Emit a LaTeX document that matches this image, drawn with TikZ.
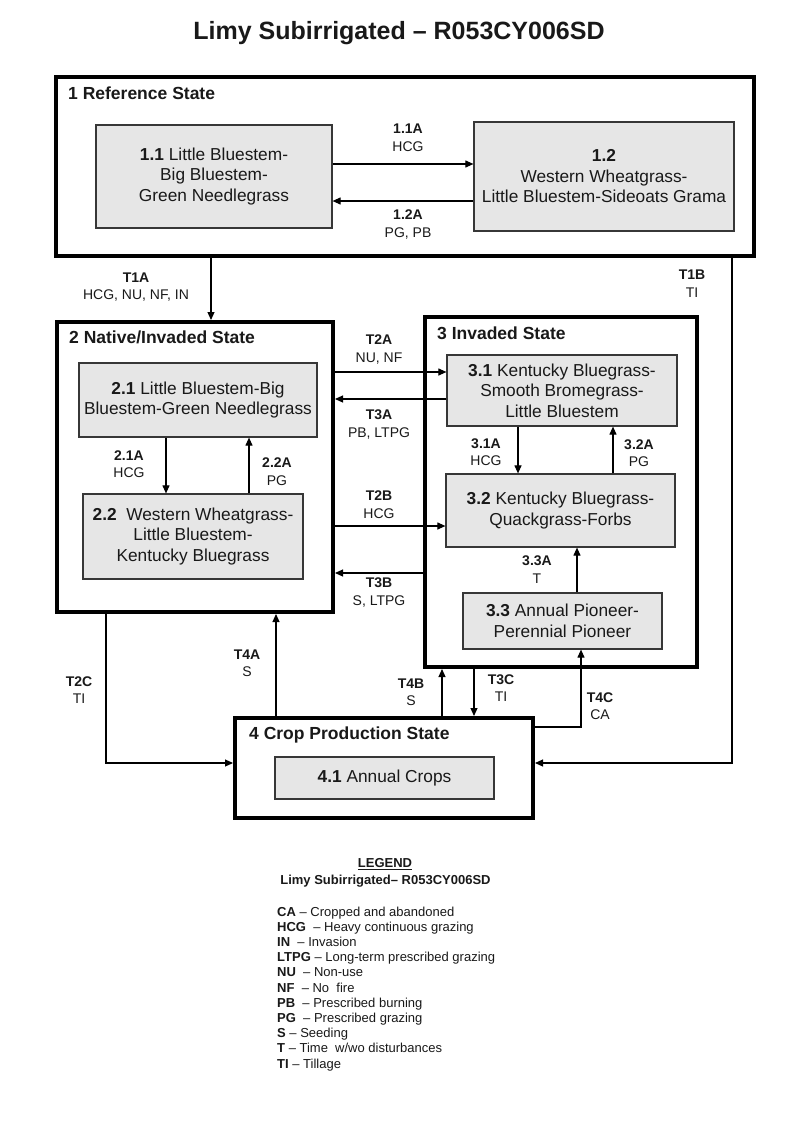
\documentclass[tikz,border=0pt]{standalone}
\usepackage{fontspec}
\setmainfont{Liberation Sans}
\usetikzlibrary{arrows.meta}
\definecolor{boxgray}{RGB}{230,230,230}
\definecolor{edgegray}{RGB}{55,55,55}
\definecolor{ink}{RGB}{25,25,25}
\begin{document}
\begin{tikzpicture}[x=1pt,y=-1pt,
  statebox/.style={draw=black, line width=4pt, inner sep=0pt, minimum width=#1},
  commbox/.style={draw=edgegray, line width=1.2pt, fill=boxgray, inner sep=1pt, align=center,
    text=ink, font=\fontsize{17.3}{20.5}\selectfont},
  statelbl/.style={anchor=west, inner sep=0pt, text=ink, font=\fontsize{17.5}{20}\selectfont\bfseries},
  lbl/.style={inner sep=0pt, align=center, text=ink, font=\fontsize{14}{17.5}\selectfont},
  arr/.style={draw=black, line width=1.1pt, -{Triangle[length=8pt,width=7pt]}},
  legtxt/.style={anchor=base west, inner sep=0pt, text=ink, font=\fontsize{13}{15}\selectfont},
  legtitle/.style={inner sep=0pt, text=ink, font=\fontsize{13}{15}\selectfont\bfseries}
]
\useasboundingbox (0,0) rectangle (800,1143);
\fill[white] (0,0) rectangle (800,1143);

% title
\node[inner sep=0pt, text=ink, font=\fontsize{25}{29}\selectfont\bfseries] (title) at (399,33) {Limy Subirrigated -- R053CY006SD};

% state boxes
\node[statebox=698pt, minimum height=179pt] (s1) at (405,166.5) {};
\node[statebox=276pt, minimum height=290pt] (s2) at (195,467) {};
\node[statebox=272pt, minimum height=350pt] (s3) at (561,492) {};
\node[statebox=298pt, minimum height=100pt] (s4) at (384,768) {};

\node[statelbl] (l1) at (68,93) {1 Reference State};
\node[statelbl] (l2) at (69,337) {2 Native/Invaded State};
\node[statelbl] (l3) at (437,333) {3 Invaded State};
\node[statelbl] (l4) at (249,735) {4 Crop Production State};

% community boxes
\node[commbox, minimum width=236pt, minimum height=103pt] (b11) at (214,176.5)
  {\textbf{1.1} Little Bluestem-\\Big Bluestem-\\Green Needlegrass};
\node[commbox, minimum width=260pt, minimum height=109pt] (b12) at (604,176.5)
  {\textbf{1.2}\\Western Wheatgrass-\\Little Bluestem-Sideoats Grama};
\node[commbox, minimum width=238pt, minimum height=74pt] (b21) at (198,400)
  {\textbf{2.1} Little Bluestem-Big\\Bluestem-Green Needlegrass};
\node[commbox, minimum width=220pt, minimum height=85pt] (b22) at (193,536.5)
  {\textbf{2.2}\ \ Western Wheatgrass-\\Little Bluestem-\\Kentucky Bluegrass};
\node[commbox, minimum width=230pt, minimum height=71pt] (b31) at (562,390.5)
  {\textbf{3.1} Kentucky Bluegrass-\\Smooth Bromegrass-\\Little Bluestem};
\node[commbox, minimum width=229pt, minimum height=73pt] (b32) at (560.5,510.5)
  {\textbf{3.2} Kentucky Bluegrass-\\Quackgrass-Forbs};
\node[commbox, minimum width=199pt, minimum height=56pt] (b33) at (562.5,621)
  {\textbf{3.3} Annual Pioneer-\\Perennial Pioneer};
\node[commbox, minimum width=219pt, minimum height=42pt] (b41) at (384.5,778)
  {\textbf{4.1} Annual Crops};

% pathways within states
\draw[arr] (b11.east |- 0,164) -- (b12.west |- 0,164);
\draw[arr] (b12.west |- 0,201) -- (b11.east |- 0,201);
\draw[arr] (b21.south -| 166,0) -- (b22.north -| 166,0);
\draw[arr] (b22.north -| 249,0) -- (b21.south -| 249,0);
\draw[arr] (b31.south -| 518,0) -- (b32.north -| 518,0);
\draw[arr] (b32.north -| 613,0) -- (b31.south -| 613,0);
\draw[arr] (b33.north -| 577,0) -- (b32.south -| 577,0);

% transitions
\draw[arr] (s1.south -| 211,0) -- (s2.north -| 211,0);
\draw[arr] (s1.south -| 732,0) |- (s4.east |- 0,763);
\draw[arr] (s2.east |- 0,372) -- (b31.west |- 0,372);
\draw[arr] (b31.west |- 0,399) -- (s2.east |- 0,399);
\draw[arr] (s2.east |- 0,526) -- (b32.west |- 0,526);
\draw[arr] (s3.west |- 0,573) -- (s2.east |- 0,573);
\draw[arr] (s2.south -| 106,0) |- (s4.west |- 0,763);
\draw[arr] (s4.north -| 276,0) -- (s2.south -| 276,0);
\draw[arr] (s4.north -| 442,0) -- (s3.south -| 442,0);
\draw[arr] (s3.south -| 474,0) -- (s4.north -| 474,0);
\draw[arr] (s4.east |- 0,727) -| (b33.south -| 581,0);

% labels
\node[lbl] (t11a) at (408,138) {\textbf{1.1A}\\HCG};
\node[lbl] (t12a) at (408,224.5) {\textbf{1.2A}\\PG, PB};
\node[lbl] (t1a) at (136,287) {\textbf{T1A}\\HCG, NU, NF, IN};
\node[lbl] (t1b) at (692,283.5) {\textbf{T1B}\\TI};
\node[lbl] (t21a) at (129,464) {\textbf{2.1A}\\HCG};
\node[lbl] (t22a) at (277,471.5) {\textbf{2.2A}\\PG};
\node[lbl] (t2a) at (379,349.5) {\textbf{T2A}\\NU, NF};
\node[lbl] (t3a) at (379,424.5) {\textbf{T3A}\\PB, LTPG};
\node[lbl] (t2b) at (379,504.5) {\textbf{T2B}\\HCG};
\node[lbl] (t3b) at (379,592.5) {\textbf{T3B}\\S, LTPG};
\node[lbl] (t31a) at (486,452) {\textbf{3.1A}\\HCG};
\node[lbl] (t32a) at (639,453) {\textbf{3.2A}\\PG};
\node[lbl] (t33a) at (537,569.5) {\textbf{3.3A}\\T};
\node[lbl] (t2c) at (79,690) {\textbf{T2C}\\TI};
\node[lbl] (t4a) at (247,663) {\textbf{T4A}\\S};
\node[lbl] (t4b) at (411,692) {\textbf{T4B}\\S};
\node[lbl] (t3c) at (501,688) {\textbf{T3C}\\TI};
\node[lbl] (t4c) at (600,706) {\textbf{T4C}\\CA};

% legend
\node[legtitle] (legh) at (385,864) {\underline{LEGEND}};
\node[legtitle] (legs) at (385.5,881) {Limy Subirrigated-- R053CY006SD};
\node[legtxt] (lg1) at (277,916) {\textbf{CA} -- Cropped and abandoned};
\node[legtxt] (lg2) at (277,931.2) {\textbf{HCG} \ -- Heavy continuous grazing};
\node[legtxt] (lg3) at (277,946.4) {\textbf{IN} \ -- Invasion};
\node[legtxt] (lg4) at (277,961.6) {\textbf{LTPG} -- Long-term prescribed grazing};
\node[legtxt] (lg5) at (277,976.8) {\textbf{NU} \ -- Non-use};
\node[legtxt] (lg6) at (277,992) {\textbf{NF} \ -- No\ \ fire};
\node[legtxt] (lg7) at (277,1007.2) {\textbf{PB} \ -- Prescribed burning};
\node[legtxt] (lg8) at (277,1022.4) {\textbf{PG} \ -- Prescribed grazing};
\node[legtxt] (lg9) at (277,1037.6) {\textbf{S} -- Seeding};
\node[legtxt] (lg10) at (277,1052.8) {\textbf{T} -- Time\ \ w/wo disturbances};
\node[legtxt] (lg11) at (277,1068) {\textbf{TI} -- Tillage};
\end{tikzpicture}
\end{document}
